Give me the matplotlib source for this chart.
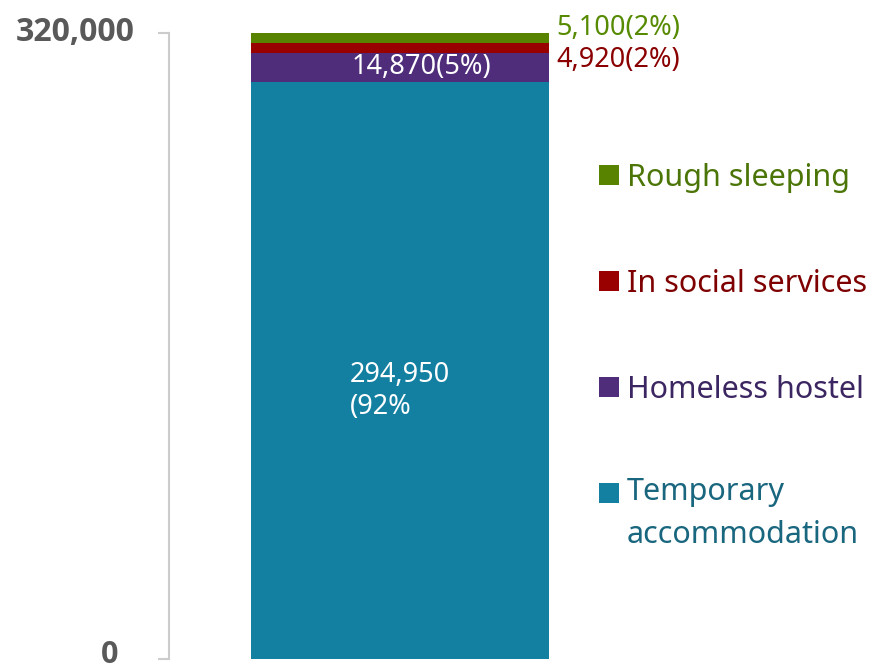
import numpy as np
import matplotlib
matplotlib.use("Agg")
import matplotlib.pyplot as plt
from matplotlib.patches import Rectangle

# stacked from the bottom up
categories = ["Temporary accommodation", "Homeless hostel", "In social services", "Rough sleeping"]
legend_labels = ["Temporary\naccommodation", "Homeless hostel", "In social services", "Rough sleeping"]
values = [294950, 14870, 4920, 5100]
shares = ["92%", "5%", "2%", "2%"]
bar_colors = ["#1380a1", "#4f2d7a", "#990000", "#588300"]
text_colors = ["#19667f", "#3c2662", "#7e0000", "#4c7508"]
y_ticks = [0, 320000]
y_tick_labels = ["0", "320,000"]

plt.rcParams['font.family'] = ['Noto Sans', 'DejaVu Sans']

W, H = 876, 671
fig = plt.figure(figsize=(W / 100, H / 100), dpi=100)
# axes: left spine at x=169px, 0 at y=659px, 320,000 at y=33px
ax = fig.add_axes([169 / W, (H - 659) / H, 462 / W, (659 - 33) / H])

bottoms = np.concatenate([[0], np.cumsum(values)[:-1]])
for v, b, c in zip(values, bottoms, bar_colors):
    ax.bar(0.5, v, bottom=b, width=0.645, color=c, linewidth=0)

ax.set_xlim(0, 1)
ax.set_ylim(0, 320000)

# axis styling
for s in ["top", "right", "bottom"]:
    ax.spines[s].set_visible(False)
ax.spines["left"].set_color("#cccccc")
ax.spines["left"].set_linewidth(1.5)
ax.set_xticks([])
ax.set_yticks(y_ticks)
ax.set_yticklabels([])
ax.tick_params(axis="y", length=8, width=1.5, color="#cccccc")

ytr = ax.get_yaxis_transform()
bold_font = ['Open Sans', 'DejaVu Sans']
ax.text(-0.11, y_ticks[0] + 2000, y_tick_labels[0], transform=ytr, ha="right", va="center",
        fontsize=22, fontweight="bold", color="#595959", family=bold_font, clip_on=False)
ax.text(-0.074, y_ticks[1] + 300, y_tick_labels[1], transform=ytr, ha="right", va="center",
        fontsize=23, fontweight="bold", color="#595959", family=bold_font)

# value labels
ax.text(0.392, bottoms[0] + values[0] * 0.465, f"{values[0]:,}\n({shares[0]}",
        ha="left", va="center", fontsize=19.5, color="white", linespacing=1.2)
ax.text(0.396, bottoms[1] + values[1] / 2, f"{values[1]:,}({shares[1]})",
        ha="left", va="center", fontsize=19.5, color="white")
ax.text(0.838, 306000, f"{values[2]:,}({shares[2]})", ha="left", va="center",
        fontsize=19.5, color="#8a0000", clip_on=False)
ax.text(0.838, 322800, f"{values[3]:,}({shares[3]})", ha="left", va="center",
        fontsize=19.5, color="#568a00", clip_on=False)

# manual legend
legend_y = [493, 387, 281, 175]
sq = 20
for lab, c, tc, y in zip(legend_labels, bar_colors, text_colors, legend_y):
    fig.add_artist(Rectangle((599 / W, (H - y - sq / 2) / H), sq / W, sq / H,
                             transform=fig.transFigure, color=c, linewidth=0))
    if "\n" in lab:
        fig.text(627 / W, (H - y + 16) / H, lab, ha="left", va="top",
                 fontsize=22, color=tc, linespacing=1.55)
    else:
        fig.text(627 / W, (H - y - 3) / H, lab, ha="left", va="center",
                 fontsize=22, color=tc)

fig.savefig("out.png", dpi=100)
